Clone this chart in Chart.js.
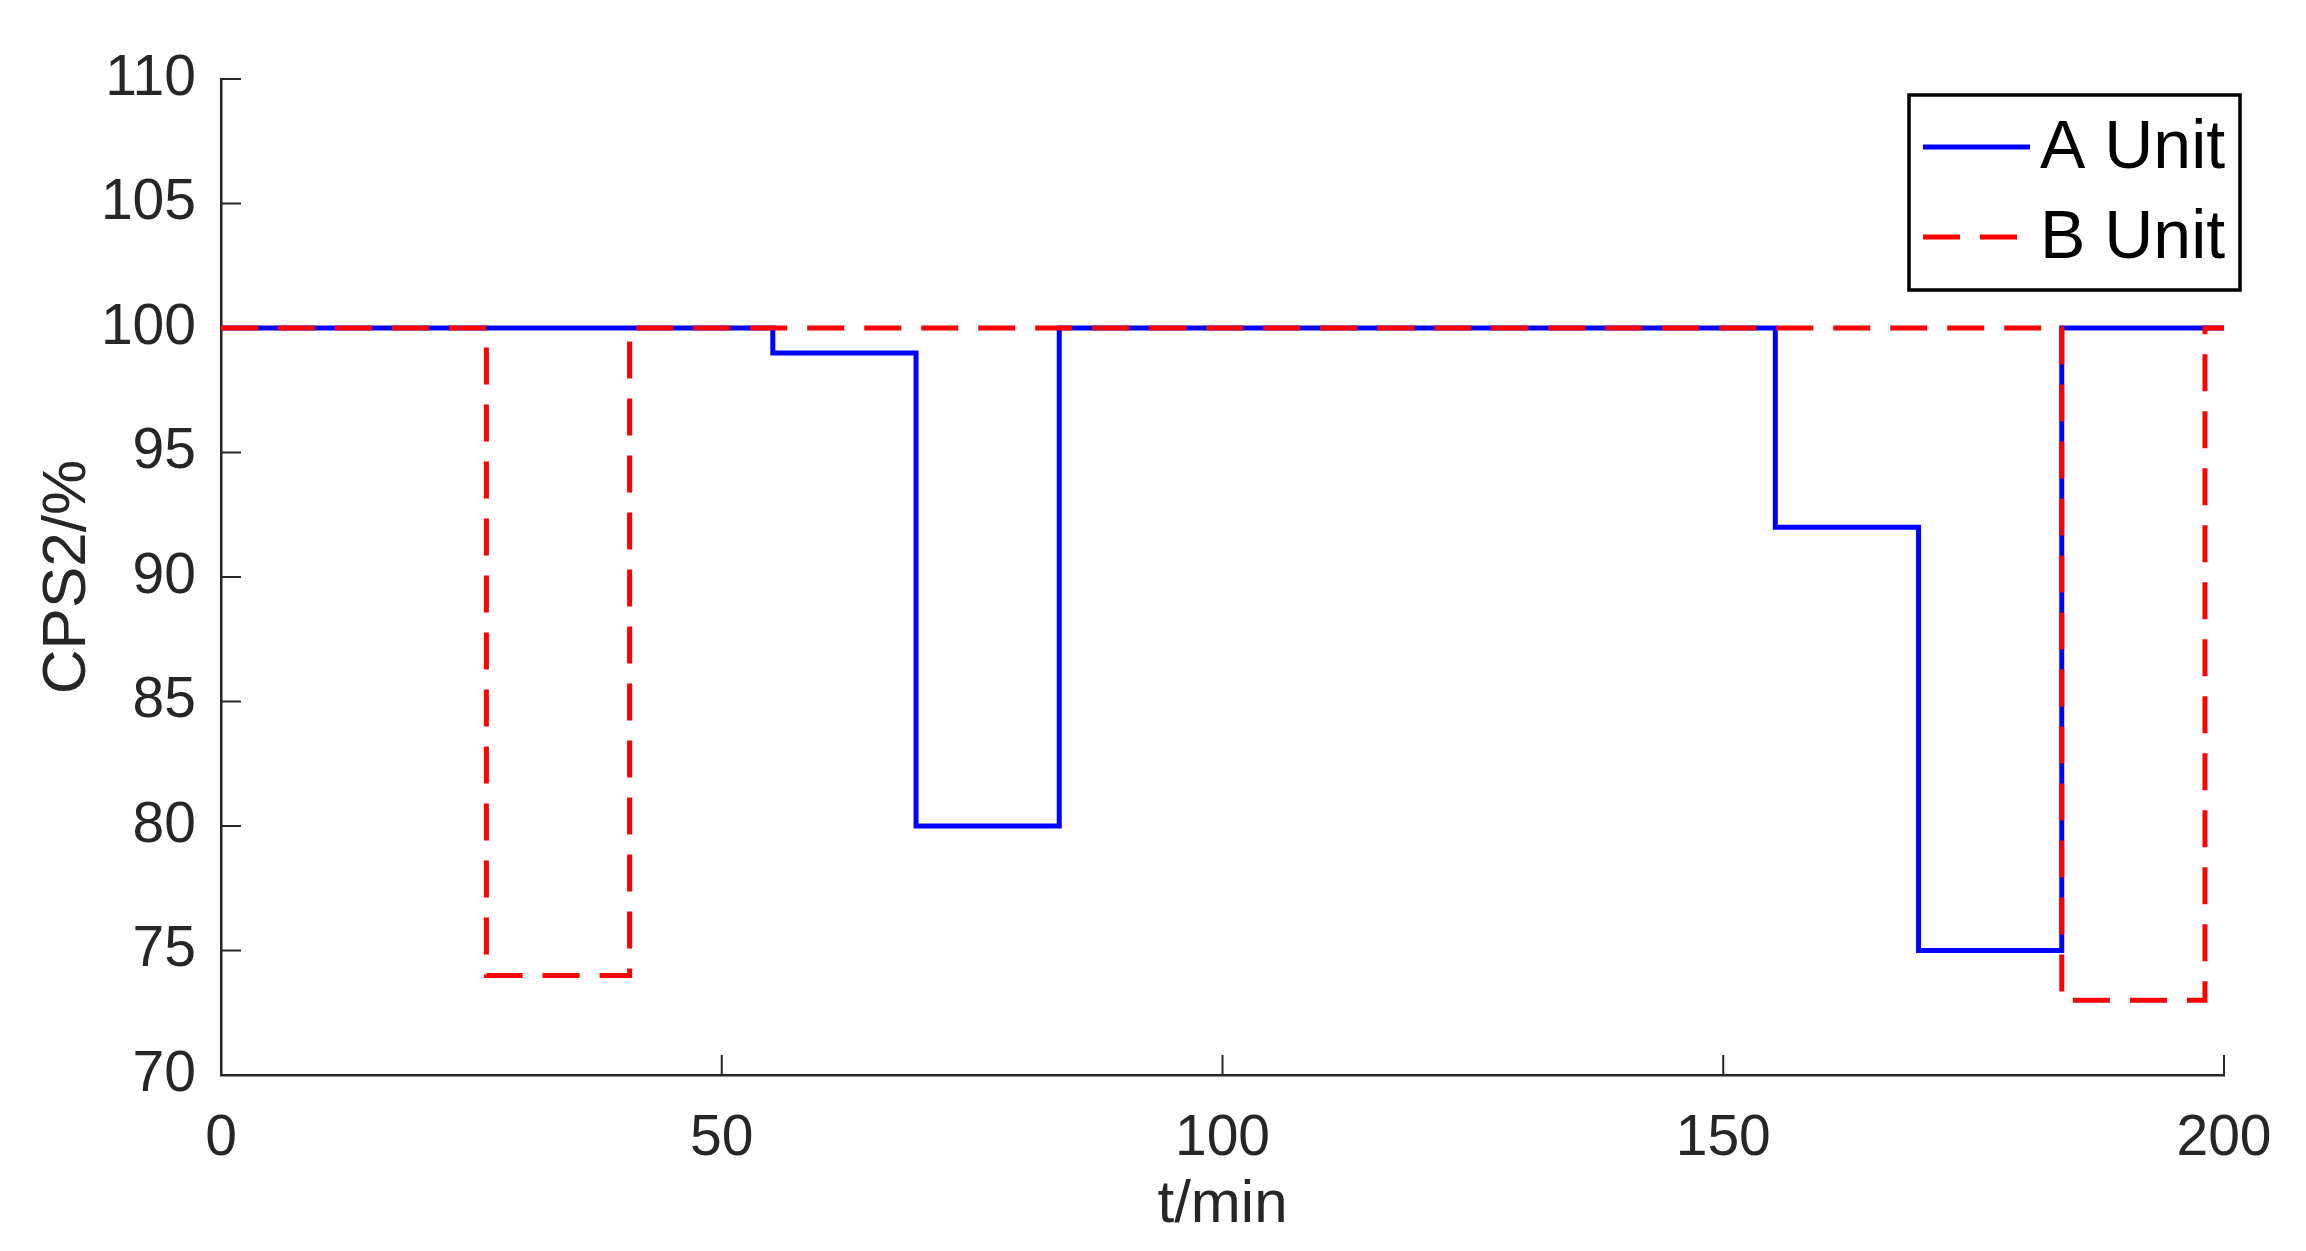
<!DOCTYPE html>
<html>
<head>
<meta charset="utf-8">
<script src="https://cdn.jsdelivr.net/npm/chart.js@4.4.1/dist/chart.umd.min.js"></script>
<style>
  html, body { margin: 0; padding: 0; background: #fff; }
  #wrap { width: 2306px; height: 1251px; }
</style>
</head>
<body>
<div id="wrap"><canvas id="grafico" width="2306" height="1251"></canvas></div>
<script>
// Dados
const aTimes = [0, 55.1, 69.4, 83.7, 155.2, 169.5, 183.8, 200]
const aValues = [100, 99, 80, 100, 92, 75, 100, 100]
const bTimes = [0, 26.5, 40.8, 183.8, 198.1, 200]
const bValues = [100, 74, 100, 73, 100, 100]

const xTicks = [0, 50, 100, 150, 200]
const yTicks = [70, 75, 80, 85, 90, 95, 100, 105, 110]

const seriesLabels = ["A Unit", "B Unit"]
const xTitle = "t/min"
const yTitle = "CPS2/%"

const FONTE = "'Liberation Sans', Arial, Helvetica, sans-serif"
const EIXO = "#262626"

function pontos(ts, vs) {
  return ts.map((t, i) => ({ x: t, y: vs[i] }))
}

// Marcas dos eixos para dentro (estilo MATLAB)
const ticksDentro = {
  id: "ticksDentro",
  beforeDatasetsDraw(chart) {
    const { ctx, chartArea, scales } = chart
    const len = 20
    ctx.save()
    ctx.strokeStyle = EIXO
    ctx.lineWidth = 2
    ctx.beginPath()
    xTicks.forEach(v => {
      const px = scales.x.getPixelForValue(v)
      ctx.moveTo(px, chartArea.bottom)
      ctx.lineTo(px, chartArea.bottom - len)
    })
    yTicks.forEach(v => {
      const py = scales.y.getPixelForValue(v)
      ctx.moveTo(chartArea.left, py)
      ctx.lineTo(chartArea.left + len, py)
    })
    ctx.stroke()
    ctx.restore()
  }
}

// Legenda com caixa no canto superior direito
const legendaCaixa = {
  id: "legendaCaixa",
  afterDraw(chart) {
    const { ctx, chartArea } = chart
    const right = chartArea.right + 16
    const top = chartArea.top + 16
    const w = 331, h = 195
    const left = right - w
    ctx.save()
    ctx.fillStyle = "#fff"
    ctx.fillRect(left, top, w, h)
    ctx.strokeStyle = "#000"
    ctx.lineWidth = 3.5
    ctx.strokeRect(left, top, w, h)
    const ordem = [0, 1]
    ordem.forEach((i, k) => {
      const ds = chart.data.datasets[i]
      const y = top + 52 + k * 90
      ctx.strokeStyle = ds.borderColor
      ctx.lineWidth = ds.borderWidth
      ctx.setLineDash(ds.borderDash || [])
      ctx.beginPath()
      ctx.moveTo(left + 14, y)
      ctx.lineTo(left + 121, y)
      ctx.stroke()
      ctx.setLineDash([])
      ctx.fillStyle = "#000"
      ctx.font = "68px " + FONTE
      ctx.textBaseline = "middle"
      ctx.textAlign = "left"
      ctx.fillText(ds.label, left + 131, y + 2)
    })
    ctx.restore()
  }
}

const ctxGrafico = document.getElementById("grafico").getContext("2d")

new Chart(ctxGrafico, {
  type: "line",
  data: {
    datasets: [
      {
        label: seriesLabels[0],
        data: pontos(aTimes, aValues),
        borderColor: "#0000ff",
        borderWidth: 5,
        stepped: "before",
        pointRadius: 0,
        fill: false,
        order: 1
      },
      {
        label: seriesLabels[1],
        data: pontos(bTimes, bValues),
        borderColor: "#ff0000",
        borderWidth: 5,
        borderDash: [37, 20],
        stepped: "before",
        pointRadius: 0,
        fill: false,
        order: 0
      }
    ]
  },
  options: {
    responsive: false,
    animation: false,
    devicePixelRatio: 1,
    layout: { padding: { top: 79, right: 82, left: 0, bottom: 0 } },
    plugins: {
      legend: { display: false },
      tooltip: { enabled: false }
    },
    scales: {
      x: {
        type: "linear",
        min: 0,
        max: 200,
        afterFit: s => { s.height = 176 },
        afterBuildTicks: s => { s.ticks = xTicks.map(v => ({ value: v })) },
        grid: { display: false, drawTicks: false },
        border: { display: true, color: EIXO, width: 2.5 },
        ticks: {
          color: EIXO,
          padding: 30,
          maxRotation: 0,
          font: { family: FONTE, size: 57 }
        },
        title: {
          display: true,
          text: xTitle,
          color: EIXO,
          padding: { top: 0, bottom: 10 },
          font: { family: FONTE, size: 60 }
        }
      },
      y: {
        type: "linear",
        min: 70,
        max: 110,
        afterFit: s => { s.width = 221 },
        afterBuildTicks: s => { s.ticks = yTicks.map(v => ({ value: v })) },
        grid: { display: false, drawTicks: false },
        border: { display: true, color: EIXO, width: 2.5 },
        ticks: {
          color: EIXO,
          padding: 25,
          font: { family: FONTE, size: 57 }
        },
        title: {
          display: true,
          text: yTitle,
          color: EIXO,
          padding: { top: 31, bottom: 0 },
          font: { family: FONTE, size: 62 }
        }
      }
    }
  },
  plugins: [ticksDentro, legendaCaixa]
})
</script>
</body>
</html>
